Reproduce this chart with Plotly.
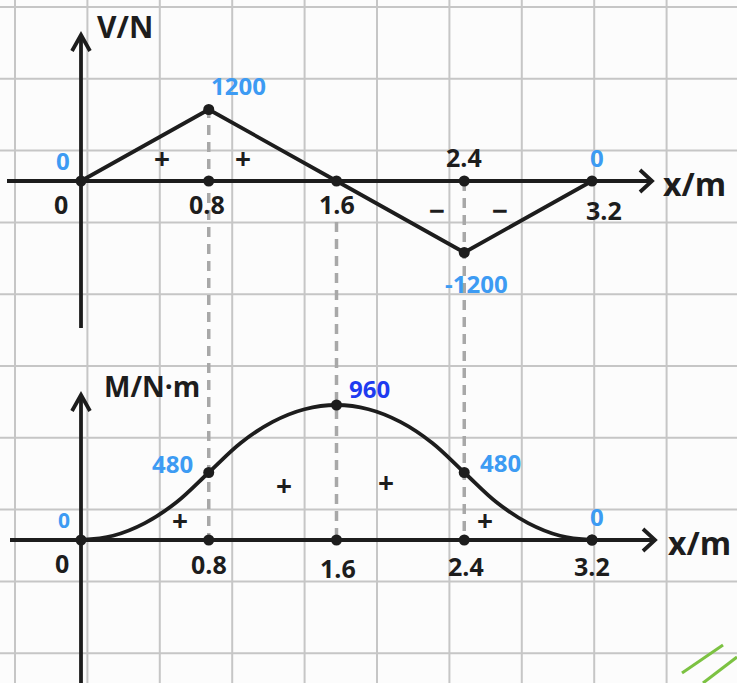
import plotly.graph_objects as go

# ---------------- data ----------------
x_pos = [0, 0.8, 1.6, 2.4, 3.2]
x_tick_labels = ["0", "0.8", "1.6", "2.4", "3.2"]
shear_V = [0, 1200, 0, -1200, 0]
shear_labels = ["0", "1200", "", "-1200", "0"]
moment_x = [0, 0.2, 0.4, 0.6, 0.8, 1.0, 1.2, 1.4, 1.6, 1.8, 2.0, 2.2, 2.4, 2.6, 2.8, 3.0, 3.2]
moment_M = [0, 30, 120, 270, 480, 690, 840, 930, 960, 930, 840, 690, 480, 270, 120, 30, 0]
key_M = [0, 480, 960, 480, 0]
moment_labels = ["0", "480", "960", "480", "0"]

# ---------------- geometry (pixels) ----------------
W, H = 737, 683
X0_PX, X32_PX = 81, 592          # x = 0 and x = 3.2
KX = (X32_PX - X0_PX) / 3.2      # px per metre
V_ZERO_PY, KV = 181, 71.5 / 1200  # top chart
M_ZERO_PY, KM = 540, 135 / 960    # bottom chart

def P(px, py):
    return px / W, 1 - py / H

INK = "#1d1d1d"
BLUE = "#3d9bf3"
DBLUE = "#1f3bf0"
GRID = "#c6c6c6"
DASH = "#a8a8a8"
FONT = "Open Sans"
TICK = 25
VAL = 24

fig = go.Figure()

# shear diagram
fig.add_trace(go.Scatter(x=x_pos, y=shear_V, mode="lines", line=dict(color=INK, width=3.8),
                         xaxis="x", yaxis="y", hoverinfo="skip"))
fig.add_trace(go.Scatter(x=x_pos + [0.8, 2.4], y=shear_V + [0, 0], mode="markers",
                         marker=dict(color=INK, size=11), xaxis="x", yaxis="y", hoverinfo="skip"))
# moment diagram
fig.add_trace(go.Scatter(x=moment_x, y=moment_M, mode="lines", line=dict(color=INK, width=3.8, shape="spline"),
                         xaxis="x", yaxis="y2", hoverinfo="skip"))
fig.add_trace(go.Scatter(x=x_pos + x_pos[1:], y=key_M + [0, 0, 0, 0], mode="markers",
                         marker=dict(color=INK, size=11), xaxis="x", yaxis="y2", hoverinfo="skip"))

shapes = []
# background grid paper
gx = 15
while gx < W:
    shapes.append(dict(type="line", xref="paper", yref="paper", x0=gx / W, x1=gx / W, y0=0, y1=1,
                       line=dict(color=GRID, width=2), layer="below"))
    gx += 72.4
gy = 7
while gy < H:
    shapes.append(dict(type="line", xref="paper", yref="paper", x0=0, x1=1, y0=1 - gy / H, y1=1 - gy / H,
                       line=dict(color=GRID, width=2), layer="below"))
    gy += 71.8

# dashed projection lines
for xv, top_py in [(0.8, 108), (1.6, 222), (2.4, 181)]:
    shapes.append(dict(type="line", xref="x", yref="paper", x0=xv, x1=xv,
                       y0=1 - top_py / H, y1=1 - M_ZERO_PY / H,
                       line=dict(color=DASH, width=3.5, dash="10px,7px"), layer="below"))

# axes lines
shapes += [
    dict(type="line", xref="paper", yref="y", x0=7 / W, x1=652 / W, y0=0, y1=0, line=dict(color=INK, width=3.8)),
    dict(type="line", xref="x", yref="paper", x0=0, x1=0, y0=1 - 35 / H, y1=1 - 328 / H, line=dict(color=INK, width=3.8)),
    dict(type="line", xref="paper", yref="y2", x0=10 / W, x1=655 / W, y0=0, y1=0, line=dict(color=INK, width=3.8)),
    dict(type="line", xref="x", yref="paper", x0=0, x1=0, y0=1 - 395 / H, y1=0, line=dict(color=INK, width=3.8)),
]

def chevron(a, tip, b):
    pa, pt, pb = P(*a), P(*tip), P(*b)
    return dict(type="path", xref="paper", yref="paper",
                path=f"M {pa[0]},{pa[1]} L {pt[0]},{pt[1]} L {pb[0]},{pb[1]}",
                line=dict(color=INK, width=3.8))

shapes += [
    chevron((72, 51), (81, 35), (90, 51)),
    chevron((640, 170), (652, 181), (640, 192)),
    chevron((72, 411), (81, 395), (90, 411)),
    chevron((643, 529), (655, 540), (643, 551)),
]

# green marker strokes in the corner
shapes += [
    dict(type="line", xref="paper", yref="paper", x0=P(682, 673)[0], y0=P(682, 673)[1],
         x1=P(723, 645)[0], y1=P(723, 645)[1], line=dict(color="#7cc242", width=3)),
    dict(type="line", xref="paper", yref="paper", x0=P(703, 683)[0], y0=P(703, 683)[1],
         x1=P(737, 657)[0], y1=P(737, 657)[1], line=dict(color="#7cc242", width=3)),
]

ann = []

def data_label(text, x, y, yref, dx, dy, color=INK, size=TICK):
    ann.append(dict(text=text, x=x, y=y, xref="x", yref=yref, xshift=dx, yshift=dy, showarrow=False,
                    xanchor="center", yanchor="middle",
                    font=dict(family=FONT, size=size, color=color, weight=700)))

def pix_label(text, px, py, size=TICK, color=INK, xanchor="center"):
    px_, py_ = P(px, py)
    ann.append(dict(text=text, x=px_, y=py_, xref="paper", yref="paper", showarrow=False,
                    xanchor=xanchor, yanchor="middle",
                    font=dict(family=FONT, size=size, color=color, weight=700)))

# ---- top chart labels ----
data_label(x_tick_labels[0], x_pos[0], 0, "y", -20, -23)
data_label(x_tick_labels[1], x_pos[1], 0, "y", -2, -23)
data_label(x_tick_labels[2], x_pos[2], 0, "y", 0, -23)
data_label(x_tick_labels[3], x_pos[3], 0, "y", 0, 24)
data_label(x_tick_labels[4], x_pos[4], 0, "y", 12, -29)
data_label(shear_labels[0], x_pos[0], shear_V[0], "y", -18, 21, BLUE, VAL)
data_label(shear_labels[1], x_pos[1], shear_V[1], "y", 30, 24, BLUE, VAL)
data_label(shear_labels[3], x_pos[3], shear_V[3], "y", 12, -31, BLUE, VAL)
data_label(shear_labels[4], x_pos[4], shear_V[4], "y", 5, 24, BLUE, VAL)
pix_label("+", 162, 158, 28)
pix_label("+", 243, 158, 28)
pix_label("−", 437, 210, 28)
pix_label("−", 500, 210, 28)
pix_label("V/N", 125, 26, 30)
pix_label("x/m", 661, 183, 32, xanchor="left")

# ---- bottom chart labels ----
data_label(x_tick_labels[0], x_pos[0], 0, "y2", -19, -23)
data_label(x_tick_labels[1], x_pos[1], 0, "y2", 0, -24)
data_label(x_tick_labels[2], x_pos[2], 0, "y2", 1, -28)
data_label(x_tick_labels[3], x_pos[3], 0, "y2", 2, -26)
data_label(x_tick_labels[4], x_pos[4], 0, "y2", 0, -26)
data_label(moment_labels[0], x_pos[0], key_M[0], "y2", -17, 20, BLUE, 21)
data_label(moment_labels[1], x_pos[1], key_M[1], "y2", -36, 9, BLUE, VAL)
data_label(moment_labels[2], x_pos[2], key_M[2], "y2", 33, 17, DBLUE, VAL)
data_label(moment_labels[3], x_pos[3], key_M[3], "y2", 36, 10, BLUE, VAL)
data_label(moment_labels[4], x_pos[4], key_M[4], "y2", 5, 24, BLUE, VAL)
pix_label("+", 180, 520, 28)
pix_label("+", 284, 485, 28)
pix_label("+", 386, 482, 28)
pix_label("+", 485, 520, 28)
pix_label("M/N·m", 152, 386, 28)
pix_label("x/m", 666, 542, 32, xanchor="left")

x_range = [-X0_PX / KX, (W - X0_PX) / KX]
v_range = [-(H - V_ZERO_PY) / KV, V_ZERO_PY / KV]
m_range = [-(H - M_ZERO_PY) / KM, M_ZERO_PY / KM]

fig.update_layout(
    width=W, height=H, margin=dict(l=0, r=0, t=0, b=0), showlegend=False,
    paper_bgcolor="#fcfcfc", plot_bgcolor="rgba(0,0,0,0)",
    xaxis=dict(domain=[0, 1], range=x_range, visible=False, fixedrange=True),
    yaxis=dict(domain=[0, 1], range=v_range, visible=False, fixedrange=True),
    yaxis2=dict(domain=[0, 1], range=m_range, visible=False, fixedrange=True, overlaying="y"),
    shapes=shapes, annotations=ann,
)

fig.write_html("out.html", config={"displayModeBar": False},
               post_script="document.body.style.margin='0';document.body.style.overflow='hidden';")
